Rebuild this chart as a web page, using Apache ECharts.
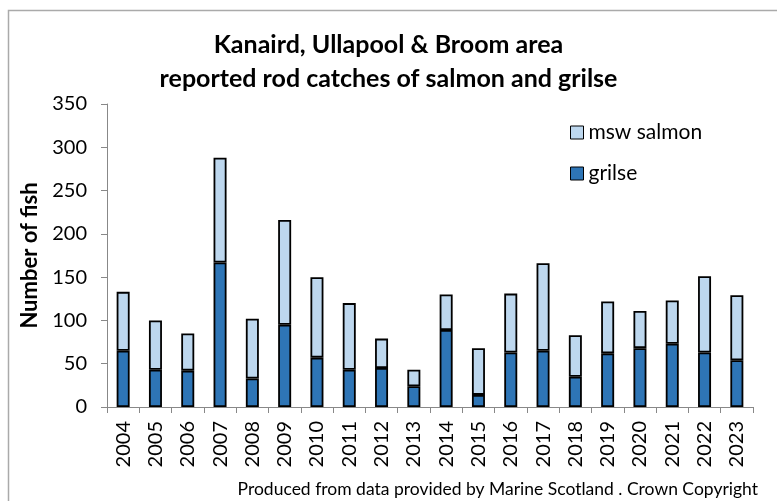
<!DOCTYPE html>
<html>
<head>
<meta charset="utf-8">
<script src="https://cdn.jsdelivr.net/npm/echarts@6/dist/echarts.min.js"></script>
<style>
  html, body { margin: 0; padding: 0; background: #fff; }
  #chart { width: 777px; height: 501px; }
</style>
</head>
<body>
<div id="chart"></div>
<script>
// years on the x axis
var years = ['2004', '2005', '2006', '2007', '2008', '2009', '2010', '2011', '2012', '2013',
  '2014', '2015', '2016', '2017', '2018', '2019', '2020', '2021', '2022', '2023'];
// grilse catches (bottom of stack)
var grilse = [65, 43, 42, 167, 33, 95, 57, 43, 45, 24, 89, 14, 63, 65, 35, 62, 68, 73, 63, 54];
// multi sea winter salmon (top of stack)
var msw = [68, 57, 43, 121, 69, 121, 93, 77, 34, 19, 41, 54, 68, 101, 48, 60, 43, 50, 88, 75];
var yTicks = { min: 0, max: 350, step: 50 };

var font = 'Lato, "Open Sans", sans-serif';
var chart = echarts.init(document.getElementById('chart'));

chart.setOption({
  animation: false,
  backgroundColor: '#fff',
  title: {
    text: 'Kanaird, Ullapool & Broom area\nreported rod catches of salmon and grilse',
    left: 'center',
    top: 23,
    textStyle: { fontFamily: font, fontWeight: 'bold', fontSize: 25, lineHeight: 34, color: '#000' }
  },
  legend: {
    data: ['msw salmon', 'grilse'],
    orient: 'vertical',
    left: 565,
    top: 117,
    itemGap: 20,
    itemWidth: 13,
    itemHeight: 13,
    icon: 'rect',
    textStyle: { fontFamily: font, fontSize: 21, lineHeight: 20, color: '#000' },
    itemStyle: { borderColor: '#000', borderWidth: 1 }
  },
  grid: { left: 107, right: 24, top: 104, bottom: 94 },
  xAxis: {
    type: 'category',
    data: years,
    axisLine: { lineStyle: { color: '#888', width: 1 } },
    axisTick: { show: true, length: 6, lineStyle: { color: '#888' } },
    axisLabel: { rotate: 90, fontFamily: font, fontSize: 20, color: '#000', margin: 14 }
  },
  yAxis: {
    type: 'value',
    min: yTicks.min,
    max: yTicks.max,
    interval: yTicks.step,
    name: 'Number of fish',
    nameLocation: 'middle',
    nameGap: 61,
    nameTextStyle: { fontFamily: font, fontWeight: 'bold', fontSize: 22, color: '#000' },
    axisLine: { show: true, lineStyle: { color: '#888', width: 1 } },
    axisTick: { show: true, length: 6, lineStyle: { color: '#888' } },
    splitLine: { show: false },
    axisLabel: { fontFamily: font, fontSize: 20, color: '#000', margin: 20 }
  },
  series: [
    {
      name: 'grilse',
      type: 'bar',
      stack: 'fish',
      barWidth: 13,
      data: grilse,
      itemStyle: { color: '#2E75B6', borderColor: '#000', borderWidth: 1.8 }
    },
    {
      name: 'msw salmon',
      type: 'bar',
      stack: 'fish',
      barWidth: 13,
      data: msw,
      itemStyle: { color: '#BDD7EE', borderColor: '#000', borderWidth: 1.8 }
    }
  ],
  graphic: [
    {
      type: 'rect',
      shape: { x: 8.5, y: 10.5, width: 800, height: 600 },
      style: { fill: 'none', stroke: '#aaa', lineWidth: 1.5 },
      silent: true
    },
    {
      type: 'text',
      right: 19,
      top: 480,
      style: {
        text: 'Produced from data provided by Marine Scotland . Crown Copyright',
        fontFamily: font, fontSize: 17.5, fill: '#000'
      }
    }
  ]
});
</script>
</body>
</html>
